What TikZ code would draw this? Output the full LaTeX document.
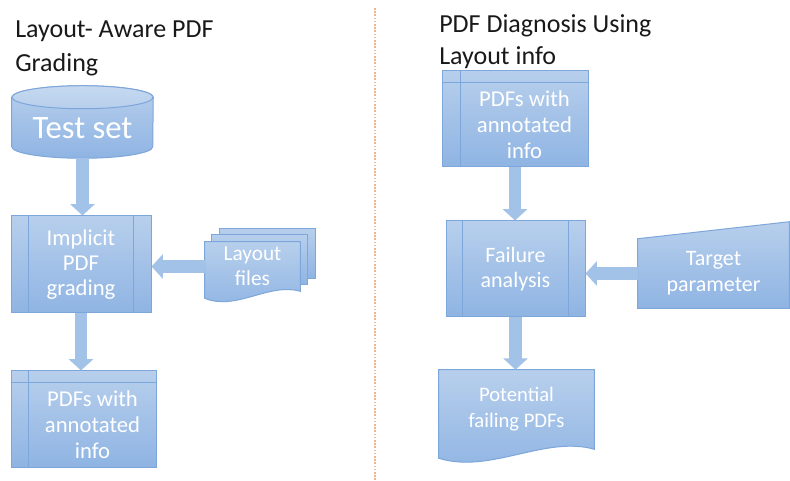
\documentclass[tikz,border=0pt]{standalone}
\usepackage{fontspec}
\setmainfont{Carlito}
\usetikzlibrary{arrows.meta,backgrounds}

\definecolor{boxtop}{HTML}{B7CFEC}
\definecolor{boxbot}{HTML}{8FB4E3}
\definecolor{boxline}{HTML}{7DA6DA}
\definecolor{flowfill}{HTML}{A3C2E8}
\definecolor{divline}{HTML}{F4B183}

\tikzset{
  box/.style={draw=boxline,line width=0.75pt,top color=boxtop,bottom color=boxbot},
  boxtext/.style={text=white,font=\fontsize{17}{19.5}\selectfont,align=center},
  inline/.style={draw=boxline,line width=0.75pt},
  flow/.style={draw=flowfill,line width=9.5pt,-{Triangle[length=8.5pt,width=18pt]}},
  heading/.style={font=\fontsize{19.5}{25}\selectfont,align=left,inner sep=0pt,anchor=north west,text=black!90}
}

\begin{document}
\begin{tikzpicture}[x=0.75pt,y=-0.75pt]
\useasboundingbox (0,0) rectangle (790,481);

\node[heading] (titleL) at (15,21) {Layout- Aware PDF\\Grading};
\node[heading,font=\fontsize{19.5}{24}\selectfont] (titleR) at (439,14) {PDF Diagnosis Using\\Layout info};
\draw[divline,line width=1.4pt,dash pattern=on 1.2pt off 1.2pt] (375,8) -- (375,481);

% left column
\node[boxtext,font=\fontsize{24.5}{28}\selectfont,minimum width=105.75pt,minimum height=45.375pt,inner sep=0pt] (testset) at (82.5,127.75) {Test set};
\begin{scope}[on background layer]
\draw[box] (testset.north west) -- ([shift={(0,-11.5)}]testset.south west)
  arc[start angle=180,end angle=360,x radius=52.875pt,y radius=8.625pt]
  -- (testset.north east) arc[start angle=0,end angle=180,x radius=52.875pt,y radius=8.625pt] -- cycle;
\draw[box,top color=boxtop!80!white,bottom color=boxtop] (testset.north) ellipse[x radius=52.875pt,y radius=8.625pt];
\end{scope}

\node[box,boxtext,font=\fontsize{17}{18.75}\selectfont,minimum width=105pt,minimum height=72.75pt] (grading) at (81,264.5) {Implicit\\PDF\\grading};
\draw[inline] ([shift={(18,0)}]grading.north west) -- ([shift={(18,0)}]grading.south west);
\draw[inline] ([shift={(-18,0)}]grading.north east) -- ([shift={(-18,0)}]grading.south east);

\node[boxtext,font=\fontsize{16}{18.5}\selectfont,minimum width=71.25pt,minimum height=36.75pt,inner sep=0pt] (files) at (252.5,266.5) {Layout\\files};
\begin{scope}[on background layer]
\draw[box] ([shift={(15,-13)}]files.north west) rectangle ([shift={(15,-13)}]files.south east);
\draw[box] ([shift={(7,-7)}]files.north west) rectangle ([shift={(7,-7)}]files.south east);
\draw[box] (files.north west) -- ([shift={(0,7)}]files.south west)
  .. controls ([shift={(31,20)}]files.south west) and ([shift={(-31,-9)}]files.south east) .. (files.south east)
  -- (files.north east) -- cycle;
\end{scope}

\node[box,minimum width=108.75pt,minimum height=72pt] (pdfsL) at (83.5,419) {};
\draw[inline] ([shift={(18,0)}]pdfsL.north west) -- ([shift={(18,0)}]pdfsL.south west);
\draw[inline] ([shift={(0,12)}]pdfsL.north west) -- ([shift={(0,12)}]pdfsL.north east);
\node[boxtext] (pdfsLtext) at ([shift={(9,6)}]pdfsL.center) {PDFs with\\annotated\\info};

\draw[flow] (testset.south) -- (testset.south |- grading.north);
\draw[flow] (files.west) -- (files.west -| grading.east);
\draw[flow] (grading.south) -- (grading.south |- pdfsL.north);

% right column
\node[box,minimum width=109.5pt,minimum height=72pt] (pdfsR) at (515,119) {};
\draw[inline] ([shift={(19,0)}]pdfsR.north west) -- ([shift={(19,0)}]pdfsR.south west);
\draw[inline] ([shift={(0,12)}]pdfsR.north west) -- ([shift={(0,12)}]pdfsR.north east);
\node[boxtext] (pdfsRtext) at ([shift={(9.5,6)}]pdfsR.center) {PDFs with\\annotated\\info};

\node[box,boxtext,font=\fontsize{16.5}{19}\selectfont,minimum width=104.25pt,minimum height=72pt] (failure) at (515.5,269) {Failure\\analysis};
\draw[inline] ([shift={(17,0)}]failure.north west) -- ([shift={(17,0)}]failure.south west);
\draw[inline] ([shift={(-17,0)}]failure.north east) -- ([shift={(-17,0)}]failure.south east);

\node[boxtext,font=\fontsize{16.5}{19.5}\selectfont,minimum width=113.25pt,minimum height=51.75pt,inner sep=0pt] (target) at (713.5,273.5) {Target\\parameter};
\begin{scope}[on background layer]
\draw[box] (target.south west) -- (target.north west) -- ([shift={(0,-17)}]target.north east)
  -- (target.south east) -- cycle;
\end{scope}

\node[boxtext,font=\fontsize{15.5}{19.5}\selectfont,minimum width=116.25pt,minimum height=59.25pt,inner sep=0pt] (potential) at (516.5,409.5) {Potential\\failing PDFs};
\begin{scope}[on background layer]
\draw[box] (potential.north west) -- ([shift={(0,9)}]potential.south west)
  .. controls ([shift={(51,25)}]potential.south west) and ([shift={(-49,-14)}]potential.south east) .. (potential.south east)
  -- (potential.north east) -- cycle;
\end{scope}

\draw[flow] (pdfsR.south) -- (pdfsR.south |- failure.north);
\draw[flow] (target.west) -- (target.west -| failure.east);
\draw[flow] (failure.south) -- (failure.south |- potential.north);

\end{tikzpicture}
\end{document}
